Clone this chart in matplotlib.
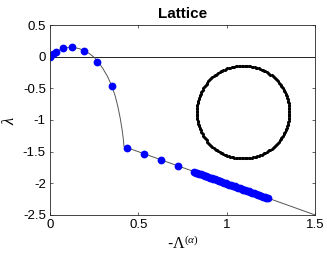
import numpy as np
import matplotlib
matplotlib.use("Agg")
import matplotlib.pyplot as plt

plt.rcParams["font.family"] = ["Liberation Sans", "DejaVu Sans"]
plt.rcParams["mathtext.fontset"] = "custom"
plt.rcParams["mathtext.rm"] = "Liberation Serif"
plt.rcParams["mathtext.it"] = "Liberation Serif:italic"

# theory curve
curve_x = [0.0, 0.02, 0.045, 0.075, 0.105, 0.135, 0.165, 0.195, 0.225, 0.25,
           0.275, 0.30, 0.325, 0.35, 0.37, 0.385, 0.398, 0.408, 0.415, 0.419, 1.5]
curve_y = [0.0, 0.05, 0.095, 0.13, 0.147, 0.145, 0.128, 0.095, 0.045, -0.01,
           -0.09, -0.19, -0.31, -0.46, -0.63, -0.8, -0.98, -1.15, -1.3, -1.42, -2.5]

# numerical eigenvalues (blue dots)
pts_x = [0.0, 0.015, 0.034, 0.072, 0.123, 0.19, 0.264, 0.351,
         0.438, 0.534, 0.63, 0.724,
         0.815, 0.825, 0.835, 0.845, 0.855, 0.865, 0.875, 0.885, 0.895, 0.905,
         0.915, 0.925, 0.935, 0.945, 0.955, 0.965, 0.975, 0.985, 0.995, 1.005,
         1.015, 1.025, 1.035, 1.045, 1.055, 1.065, 1.075, 1.085, 1.095, 1.105,
         1.115, 1.125, 1.135, 1.145, 1.155, 1.165, 1.175, 1.185, 1.195, 1.205,
         1.215, 1.225, 1.236]
pts_y = [0.0, 0.04, 0.08, 0.13, 0.15, 0.095, -0.08, -0.46,
         -1.44, -1.53, -1.63, -1.72,
         -1.82, -1.83, -1.84, -1.85, -1.86, -1.87, -1.88, -1.89, -1.90, -1.91,
         -1.92, -1.93, -1.94, -1.95, -1.96, -1.97, -1.98, -1.99, -2.00, -2.01,
         -2.02, -2.03, -2.04, -2.05, -2.06, -2.07, -2.08, -2.09, -2.10, -2.11,
         -2.12, -2.13, -2.14, -2.15, -2.16, -2.17, -2.18, -2.19, -2.20, -2.21,
         -2.22, -2.23, -2.24]

x_ticks = [0, 0.5, 1, 1.5]
x_labels = ["0", "0.5", "1", "1.5"]
y_ticks = [0.5, 0, -0.5, -1, -1.5, -2, -2.5]
y_labels = ["0.5", "0", "-0.5", "-1", "-1.5", "-2", "-2.5"]

# lattice spectrum on the unit circle for the inset
n_sites = 200
phase = 2 * np.pi * np.arange(n_sites) / n_sites

fig = plt.figure(figsize=(3.27, 2.64), dpi=100)
ax = fig.add_axes([0.153, 0.186, 0.81, 0.719])

ax.plot([0, 1.5], [0, 0], color="#222222", lw=0.7)
ax.plot(curve_x, curve_y, color="#555555", lw=0.7)
ax.plot(pts_x, pts_y, "o", color="#0000ff", ms=5.6, mec="none")

ax.set_xlim(0, 1.5)
ax.set_ylim(-2.5, 0.5)
ax.set_xticks(x_ticks)
ax.set_xticklabels(x_labels)
ax.set_yticks(y_ticks)
ax.set_yticklabels(y_labels)
ax.tick_params(direction="in", top=True, right=True, labelsize=9.5,
               length=2.5, width=0.5, color="#262626", pad=3)
for s in ax.spines.values():
    s.set_linewidth(0.6)
    s.set_color("#262626")

ax.set_title("Lattice", fontsize=11, fontweight="bold", pad=5)
ax.set_xlabel(r"-$\Lambda^{(\alpha)}$", fontsize=11.5, labelpad=2)
ax.set_ylabel(r"$\lambda$", fontsize=12, labelpad=4)

ins = fig.add_axes([0.596, 0.393, 0.295, 0.365])
ins.plot(np.cos(phase), np.sin(phase), ".", color="black", ms=2.4)
ins.set_xlim(-1.04, 1.04)
ins.set_ylim(-1.04, 1.04)
ins.set_aspect("equal")
ins.axis("off")

fig.savefig("out.png", dpi=100)
